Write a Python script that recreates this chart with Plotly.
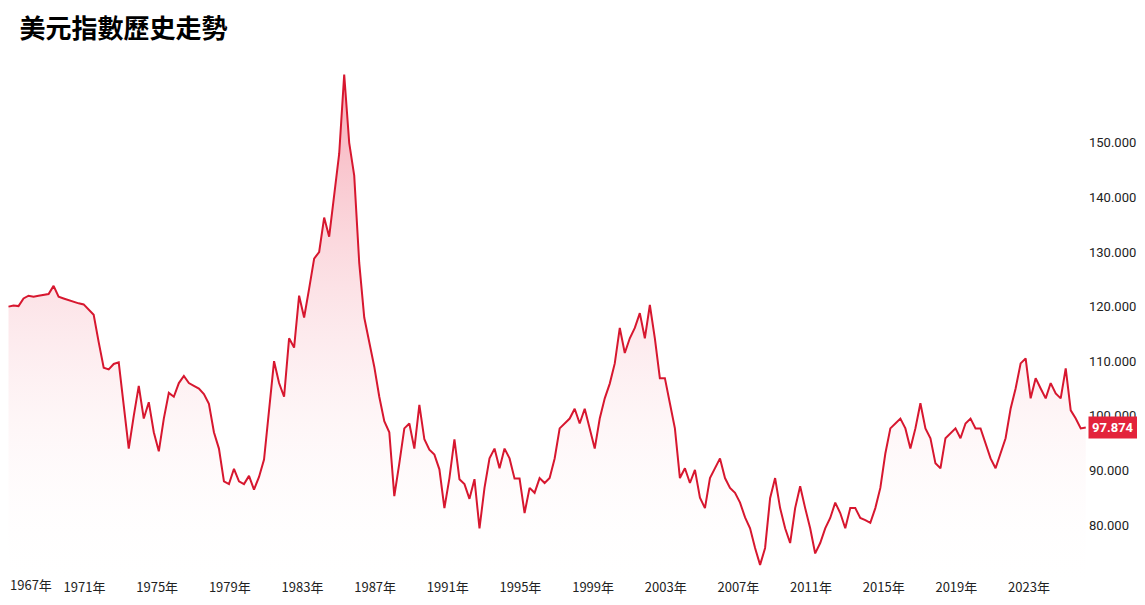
import pandas as pd
import plotly.graph_objects as go

values = [120.0,120.2,120.1,121.5,122.0,121.8,122.0,122.1,122.3,123.8,121.8,121.5,121.2,120.8,120.6,120.4,119.5,118.5,113.5,108.8,
108.5,109.5,109.8,101.4,94.0,100,105.5,99.5,102.5,97,93.5,99.5,104.2,103.5,106,107.3,106,105.5,105,104,
102.2,97,94,88,87.5,90.3,88,87.5,89,86.5,88.8,92,101,110,106,103.5,114.2,112.5,122,118,
123.3,128.8,130,136.3,132.8,140,148,162.5,150,144,128,118,113.5,109,103.5,99,97,85.3,91.3,97.7,
98.6,94,102,95.7,93.8,92.9,90.2,83.1,88.6,95.7,88.4,87.5,84.8,88.4,79.4,86.8,92.2,94,90.4,94,
92.2,88.5,88.5,82.2,86.8,85.9,88.6,87.7,88.6,92.2,97.7,98.6,99.5,101.3,98.6,101.3,97.7,94,99.5,103.2,
105.9,109.6,116.1,111.5,114.2,116.1,118.8,114.2,120.3,114.2,106.9,106.9,102.3,97.7,88.6,90.4,87.7,90.1,85,83.1,
88.6,90.4,92.2,88.6,86.8,85.9,84.1,81.4,79.4,75.8,72.7,75.8,84.9,88.6,83.1,79.4,76.7,83.1,87.1,83.1,
79.4,74.8,76.7,79.4,81.3,84.1,82.2,79.4,83.1,83.1,81.3,80.9,80.4,83.1,86.8,93.1,97.7,98.6,99.5,97.7,
94,97.7,102.3,97.7,95.9,91.3,90.4,95.9,96.8,97.7,95.9,98.6,99.5,97.7,97.7,94.9,92.2,90.4,93.1,95.9,
101.3,105,109.6,110.5,103.2,106.9,105,103.2,106,104.1,103.2,108.7,101,99.5,97.7,97.874]
dates = pd.date_range("1966-10-25", "2026-02-15", periods=len(values))
tick_years = list(range(1967, 2024, 4))
tick_vals = [f"{y}-01-01" for y in tick_years]
tick_text = [f"{y}年" for y in tick_years]
last_value = 97.874

fig = go.Figure(go.Scatter(
    x=dates, y=values, mode="lines",
    line=dict(color="#d7172f", width=2),
    fill="tozeroy",
    fillgradient=dict(type="vertical", start=68, stop=160,
                      colorscale=[[0, "rgba(255,255,255,0)"], [1, "rgba(240,110,130,0.55)"]]),
    hoverinfo="skip"))

fig.add_annotation(x=1, xref="paper", xanchor="left", y=last_value, yref="y",
                   text=f"<b>{last_value:.3f}</b>", showarrow=False,
                   bgcolor="#e3233b", font=dict(color="white", size=13, family="Roboto"),
                   borderpad=3)
# first tick label, which the axis would drop at the left edge
fig.add_annotation(x=0, xref="paper", xanchor="left", y=-0.012, yref="paper", yanchor="middle",
                   text=tick_text[0], showarrow=False,
                   font=dict(size=13, color="#222", family="Noto Sans CJK TC"))

fig.update_layout(
    width=1145, height=605,
    paper_bgcolor="white", plot_bgcolor="white",
    margin=dict(l=0, r=65, t=60, b=35),
    showlegend=False,
    title=dict(text="<b>美元指數歷史走勢</b>", x=0.01, xanchor="left", y=0.965, yanchor="middle",
               font=dict(size=26, color="black", family="Noto Sans CJK TC")),
    xaxis=dict(tickvals=tick_vals[1:], ticktext=tick_text[1:], showgrid=False, zeroline=False,
               range=["1966-10-15", "2026-04-01"], showline=False,
               tickfont=dict(size=13, color="#222", family="Noto Sans CJK TC")),
    yaxis=dict(side="right", range=[70.3, 163.7], tickvals=list(range(80, 151, 10)),
               tickformat=".3f", showgrid=False, zeroline=False,
               tickfont=dict(size=13, color="#222", family="Roboto")),
)
fig.write_html("out.html")
